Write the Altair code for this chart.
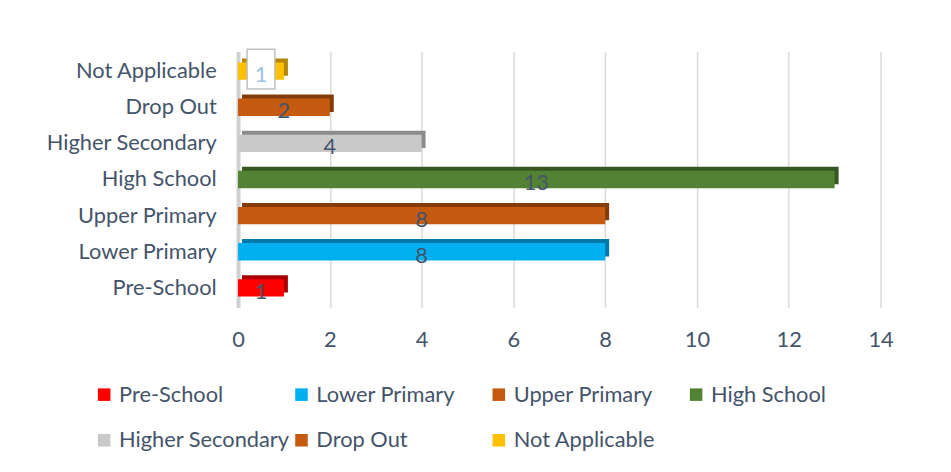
import altair as alt
import pandas as pd

categories = ["Pre-School", "Lower Primary", "Upper Primary", "High School",
              "Higher Secondary", "Drop Out", "Not Applicable"]
values = [1, 8, 8, 13, 4, 2, 1]
colors = ["#FF0000", "#00B0F0", "#C55A11", "#548235", "#C9C9C9", "#C55A11", "#FFC000"]
dark_colors = ["#A80000", "#0079A8", "#843C0C", "#375623", "#8C8C8C", "#843C0C", "#B38600"]
x_ticks = [0, 2, 4, 6, 8, 10, 12, 14]

df = pd.DataFrame({"cat": categories, "val": values, "dark": dark_colors})
df["mid"] = df["val"] / 2
y_order = list(reversed(categories))
TXT = "#44546A"
FONT = "Lato"
FS = 22

y_enc = alt.Y("cat:N", sort=y_order, title=None,
              scale=alt.Scale(paddingInner=0.52, paddingOuter=0.3),
              axis=alt.Axis(labelFontSize=FS, labelColor=TXT, labelFont=FONT,
                            ticks=False, labelPadding=22, domain=True,
                            domainColor="#D0D0D0", domainWidth=4, labelLimit=300))
x_enc = alt.X("val:Q", title=None,
              scale=alt.Scale(domain=[0, 14], nice=False),
              axis=alt.Axis(values=x_ticks, labelFontSize=FS, labelColor=TXT,
                            labelFont=FONT, ticks=False, domain=False,
                            grid=True, gridColor="#D9D9D9", gridWidth=1.5,
                            labelPadding=22, labelFlush=False))

base = alt.Chart(df)

depth = base.mark_bar(xOffset=4, yOffset=-4).encode(
    y=y_enc, x=x_enc,
    color=alt.Color("dark:N", scale=None, legend=None),
)

bars = base.mark_bar().encode(
    y=y_enc, x=x_enc,
    color=alt.Color("cat:N", sort=categories,
                    scale=alt.Scale(domain=categories, range=colors),
                    legend=alt.Legend(title=None, orient="none", legendX=-146, legendY=335,
                                      direction="horizontal",
                                      columns=4, gridAlign="all", columnPadding=-5,
                                      rowPadding=24, symbolType="square", symbolSize=160,
                                      symbolStrokeWidth=0, labelFontSize=FS,
                                      labelColor=TXT, labelFont=FONT, labelLimit=300,
                                      symbolOffset=0, labelOffset=4)),
)

box = base.transform_filter(alt.datum.cat == "Not Applicable").mark_point(
    shape="M-0.7,-1L0.7,-1L0.7,1L-0.7,1Z", size=1600, filled=True,
    fill="white", stroke="#BFBFBF", strokeWidth=1.5, opacity=1, yOffset=-2,
).encode(y=alt.Y("cat:N", sort=y_order), x=alt.X("mid:Q"))

labels = base.mark_text(fontSize=FS, font=FONT, dy=4).encode(
    y=alt.Y("cat:N", sort=y_order),
    x=alt.X("mid:Q"),
    text=alt.Text("val:Q"),
    color=alt.condition(alt.datum.cat == "Not Applicable",
                        alt.value("#9DC3E6"), alt.value(TXT)),
)

chart = alt.layer(depth, bars, box, labels).resolve_scale(
    color="independent"
).properties(
    width=648, height=258,
    autosize=alt.AutoSizeParams(type="none"),
    padding={"left": 232, "top": 42, "right": 63, "bottom": 158},
).configure_view(stroke=None)

chart.save("out.html", embed_options={"renderer": "svg", "actions": False})
